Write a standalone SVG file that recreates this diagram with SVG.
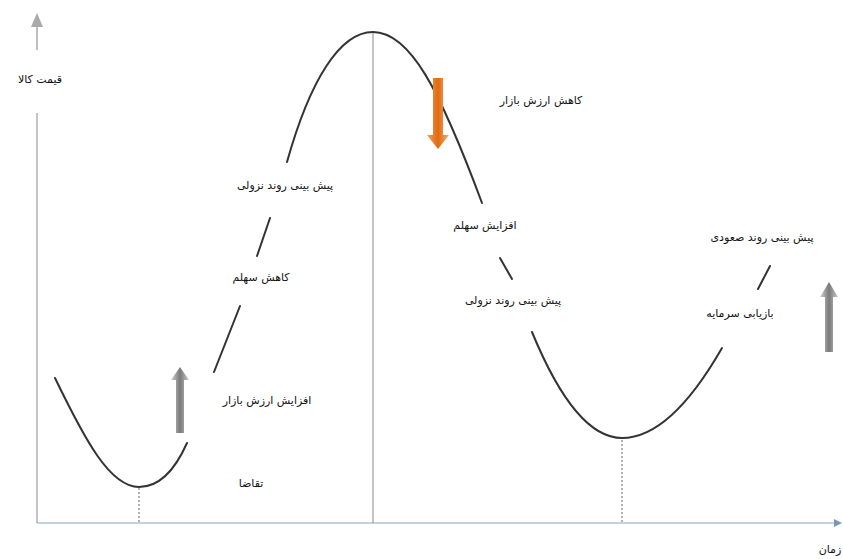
<svg xmlns="http://www.w3.org/2000/svg" width="843" height="559" viewBox="0 0 843 559">
<style>
.t{font-family:"DejaVu Sans","Noto Sans",sans-serif;font-size:11px;fill:#111;text-anchor:middle;direction:rtl}
.c{fill:none;stroke:#333;stroke-width:2;stroke-linecap:round}
.ax{stroke:#888;stroke-width:1;fill:none}
.dot{stroke:#666;stroke-width:1;stroke-dasharray:2 2;fill:none}
</style>
<defs>
<linearGradient id="gg" x1="0" y1="0" x2="1" y2="0">
<stop offset="0" stop-color="#d0d0d0"/><stop offset="0.5" stop-color="#7a7a7a"/><stop offset="1" stop-color="#c8c8c8"/>
</linearGradient>
<linearGradient id="og" x1="0" y1="0" x2="1" y2="0">
<stop offset="0" stop-color="#f0a060"/><stop offset="0.5" stop-color="#e06a10"/><stop offset="1" stop-color="#f5b070"/>
</linearGradient>
</defs>
<rect width="843" height="559" fill="#fff"/>
<g id="axes">
<line class="ax" x1="37" y1="113" x2="37" y2="523"/>
<line x1="37" y1="523" x2="834" y2="523" stroke="#8aa4c0" stroke-width="1.2"/>
<path d="M834,519 L842,523 L834,527 Z" fill="#7a95b5"/>
<line x1="37" y1="50" x2="37" y2="25" stroke="#aaa" stroke-width="1.5"/>
<path d="M31,27 L37,13 L43,27 Z" fill="#aaa"/>
<line class="ax" x1="373" y1="32" x2="373" y2="523" stroke="#bbb"/>
<line class="dot" x1="139" y1="488" x2="139" y2="523"/>
<line class="dot" x1="622" y1="440" x2="622" y2="523"/>
</g>
<g id="connectors">
<path class="c" d="M55,378 C85,440 110,487 139,487 C160,487 175,470 187,443"/>
<line class="c" x1="214" y1="372" x2="240" y2="306"/>
<line class="c" x1="257" y1="256" x2="270" y2="218"/>
<path class="c" d="M287,162 C310,80 340,32 373,32 C410,32 440,90 482,203"/>
<line class="c" x1="500" y1="258" x2="512" y2="279"/>
<path class="c" d="M532,332 C560,400 590,438 622,438 C660,438 695,395 722,348"/>
<line class="c" x1="758" y1="289" x2="770" y2="266"/>
</g>
<g id="arrow-left">
<path d="M176,433 L176,380 L171,380 L180,367 L189,380 L184,380 L184,433 Z" fill="url(#gg)"/>
</g>
<g id="arrow-orange">
<path d="M433,78 L443,78 L443,135 L449,135 L438,149 L427,135 L433,135 Z" fill="url(#og)"/>
</g>
<g id="arrow-right">
<path d="M825,352 L825,297 L820,297 L829,282 L838,297 L833,297 L833,352 Z" fill="url(#gg)"/>
</g>
<g id="labels">
<text class="t" x="40" y="83">قیمت کالا</text>
<text class="t" x="285" y="189">پیش بینی روند نزولی</text>
<text class="t" x="261" y="281">کاهش سهلم</text>
<text class="t" x="267" y="404">افزایش ارزش بازار</text>
<text class="t" x="251" y="487">تقاضا</text>
<text class="t" x="541" y="104">کاهش ارزش بازار</text>
<text class="t" x="485" y="229">افزایش سهلم</text>
<text class="t" x="513" y="304">پیش بینی روند نزولی</text>
<text class="t" x="762" y="241">پیش بینی روند صعودی</text>
<text class="t" x="740" y="317">بازیابی سرمایه</text>
<text class="t" x="830" y="553">زمان</text>
</g>
</svg>
